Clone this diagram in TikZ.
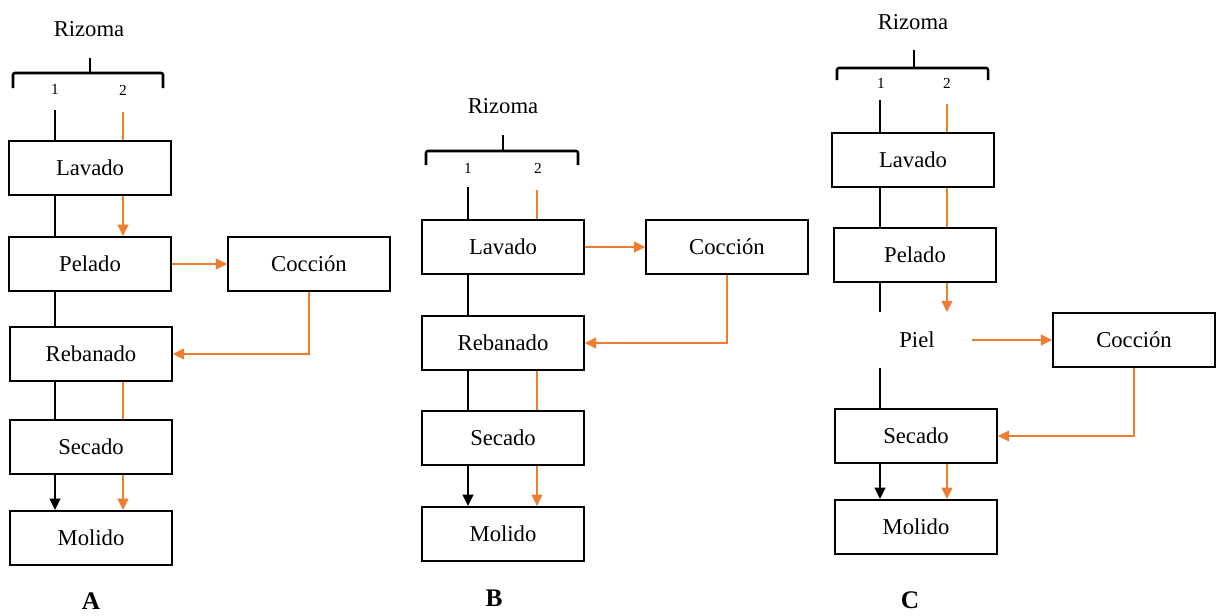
\documentclass[tikz,border=0pt]{standalone}
\usepackage{fontspec}
\setmainfont{Liberation Serif}
\usetikzlibrary{arrows.meta}
\definecolor{flujo}{HTML}{ED7D31}
\tikzset{
  caja/.style={draw, line width=1.6pt, minimum width=121pt, minimum height=40.5pt, inner sep=0pt, font=\fontsize{17}{20}\selectfont},
  rotulo/.style={inner sep=0pt, font=\fontsize{17}{20}\selectfont},
  numero/.style={inner sep=0pt, font=\fontsize{11.5}{13}\selectfont},
  panel/.style={inner sep=0pt, font=\fontsize{19}{22}\selectfont\bfseries},
  llave/.style={line width=1.9pt, rounded corners=1.5pt},
  ruta1/.style={line width=1.8pt, black},
  ruta2/.style={line width=1.6pt, flujo},
  punta/.style={-{Triangle[length=8.5pt,width=8pt]}},
}

\begin{document}
\begin{tikzpicture}[x=0.75pt,y=-0.75pt]
\useasboundingbox (0,0) rectangle (1219,615);
% A
\node[rotulo] (rizA) at (89,29) {Rizoma};
\draw[llave] (13,88) -- (13,73) -- (163,73) -- (163,88);
\draw[llave] (90,58) -- (90,73);
\node[numero] (n1A) at (55,89) {1};
\node[numero] (n2A) at (123,90) {2};
\coordinate (s1A) at (55,110);
\coordinate (s2A) at (123,112);
\node[caja] (lavA) at (90,168) {Lavado};
\node[caja] (pelA) at (90,264) {Pelado};
\node[caja] (cocA) at (309,264) {Cocción};
\node[caja] (rebA) at (91,354) {Rebanado};
\node[caja] (secA) at (91,447) {Secado};
\node[caja] (molA) at (91,538) {Molido};
\node[panel] (letA) at (91,601) {A};
\draw[ruta1] (s1A) -- (s1A |- lavA.north);
\draw[ruta1] (s1A |- lavA.south) -- (s1A |- pelA.north);
\draw[ruta1] (s1A |- pelA.south) -- (s1A |- rebA.north);
\draw[ruta1] (s1A |- rebA.south) -- (s1A |- secA.north);
\draw[ruta1, punta] (s1A |- secA.south) -- (s1A |- molA.north);
\draw[ruta2] (s2A) -- (s2A |- lavA.north);
\draw[ruta2, punta] (s2A |- lavA.south) -- (s2A |- pelA.north);
\draw[ruta2, punta] (pelA.east) -- (cocA.west);
\draw[ruta2, punta] (cocA.south) |- (rebA.east);
\draw[ruta2] (s2A |- rebA.south) -- (s2A |- secA.north);
\draw[ruta2, punta] (s2A |- secA.south) -- (s2A |- molA.north);
% B
\node[rotulo] (rizB) at (503,106) {Rizoma};
\draw[llave] (426,165) -- (426,151) -- (578,151) -- (578,165);
\draw[llave] (503,135) -- (503,151);
\node[numero] (n1B) at (468,168) {1};
\node[numero] (n2B) at (538,168) {2};
\coordinate (s1B) at (468,187);
\coordinate (s2B) at (537,190);
\node[caja] (lavB) at (503,247) {Lavado};
\node[caja] (cocB) at (727,247) {Cocción};
\node[caja] (rebB) at (503,343) {Rebanado};
\node[caja] (secB) at (503,438) {Secado};
\node[caja] (molB) at (503,534) {Molido};
\node[panel] (letB) at (494,598) {B};
\draw[ruta1] (s1B) -- (s1B |- lavB.north);
\draw[ruta1] (s1B |- lavB.south) -- (s1B |- rebB.north);
\draw[ruta1] (s1B |- rebB.south) -- (s1B |- secB.north);
\draw[ruta1, punta] (s1B |- secB.south) -- (s1B |- molB.north);
\draw[ruta2] (s2B) -- (s2B |- lavB.north);
\draw[ruta2, punta] (lavB.east) -- (cocB.west);
\draw[ruta2, punta] (cocB.south) |- (rebB.east);
\draw[ruta2] (s2B |- rebB.south) -- (s2B |- secB.north);
\draw[ruta2, punta] (s2B |- secB.south) -- (s2B |- molB.north);
% C
\node[rotulo] (rizC) at (913,22) {Rizoma};
\draw[llave] (837,80) -- (837,68) -- (988,68) -- (988,80);
\draw[llave] (914,50) -- (914,68);
\node[numero] (n1C) at (881,83) {1};
\node[numero] (n2C) at (947,83) {2};
\coordinate (s1C) at (880,100);
\coordinate (s2C) at (947,104);
\node[caja] (lavC) at (913,160) {Lavado};
\node[caja] (pelC) at (915,255) {Pelado};
\node[rotulo, minimum width=82.5pt, minimum height=41.25pt] (pielC) at (917,340) {Piel};
\node[caja] (cocC) at (1134,340) {Cocción};
\node[caja] (secC) at (916,436) {Secado};
\node[caja] (molC) at (916,527) {Molido};
\node[panel] (letC) at (910,600) {C};
\draw[ruta1] (s1C) -- (s1C |- lavC.north);
\draw[ruta1] (s1C |- lavC.south) -- (s1C |- pelC.north);
\draw[ruta1] (s1C |- pelC.south) -- (s1C |- pielC.north);
\draw[ruta1] (s1C |- pielC.south) -- (s1C |- secC.north);
\draw[ruta1, punta] (s1C |- secC.south) -- (s1C |- molC.north);
\draw[ruta2] (s2C) -- (s2C |- lavC.north);
\draw[ruta2] (s2C |- lavC.south) -- (s2C |- pelC.north);
\draw[ruta2, punta] (s2C |- pelC.south) -- (s2C |- pielC.north);
\draw[ruta2, punta] (pielC.east) -- (cocC.west);
\draw[ruta2, punta] (cocC.south) |- (secC.east);
\draw[ruta2, punta] (s2C |- secC.south) -- (s2C |- molC.north);
\end{tikzpicture}
\end{document}
